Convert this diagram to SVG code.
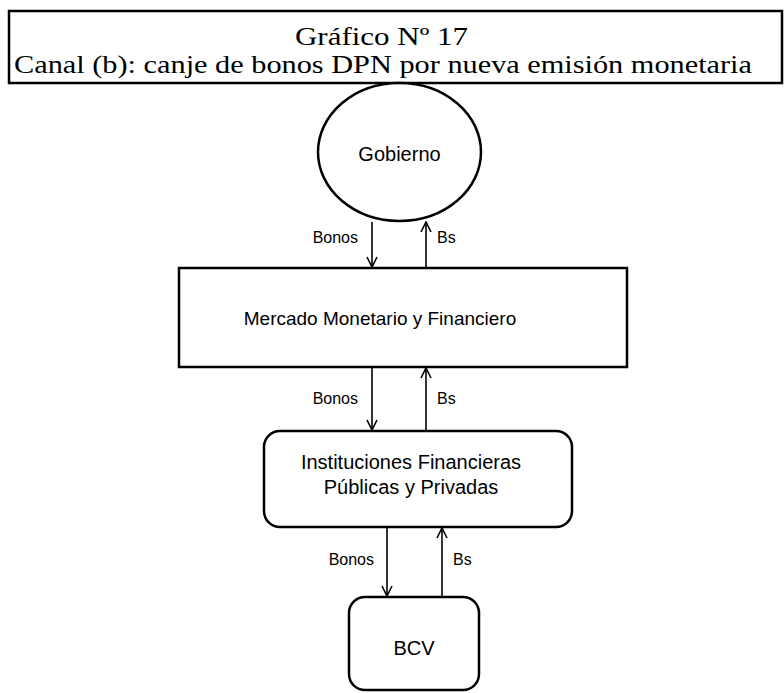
<svg xmlns="http://www.w3.org/2000/svg" width="784" height="693" viewBox="0 0 784 693">
<defs>
<style>
.box{fill:#fff;stroke:#000;stroke-width:2.5}
.con{stroke:#000;stroke-width:1.6;fill:none;marker-end:url(#ah)}
.t{font-family:"Liberation Sans",Arial,sans-serif;fill:#000}
.n{font-size:20px;text-anchor:middle}
.l{font-size:16px}
.s{font-family:"Liberation Serif","Times New Roman",serif;fill:#000}
</style>
<marker id="ah" viewBox="0 0 12 12" refX="11" refY="6" markerWidth="12" markerHeight="12" markerUnits="userSpaceOnUse" orient="auto">
<polyline points="1,1 11,6 1,11" fill="none" stroke="#000" stroke-width="1.6"/>
</marker>
</defs>
<g id="title">
<rect class="box" x="9" y="11" width="773" height="72"/>
<text class="s" x="295" y="45" font-size="25" textLength="173" lengthAdjust="spacingAndGlyphs">Gráfico Nº 17</text>
<text class="s" x="14" y="73" font-size="25" textLength="738" lengthAdjust="spacingAndGlyphs">Canal (b): canje de bonos DPN por nueva emisión monetaria</text>
</g>
<g id="gobierno">
<ellipse class="box" cx="399.5" cy="152" rx="81.5" ry="69"/>
<text class="t n" x="399.5" y="161">Gobierno</text>
</g>
<g id="mercado">
<rect class="box" x="179" y="268" width="448" height="99"/>
<text class="t n" x="380" y="325" font-size="19" style="font-size:19px">Mercado Monetario y Financiero</text>
</g>
<g id="instituciones">
<rect class="box" x="264" y="431" width="308" height="96" rx="16"/>
<text class="t n" x="411" y="469">Instituciones Financieras</text>
<text class="t n" x="411" y="494">Públicas y Privadas</text>
</g>
<g id="bcv">
<rect class="box" x="349" y="597" width="130" height="93" rx="16"/>
<text class="t n" x="414" y="655">BCV</text>
</g>
<g id="connectors">
<line class="con" x1="372" y1="222" x2="372" y2="267"/>
<line class="con" x1="426" y1="267" x2="426" y2="222"/>
<line class="con" x1="372" y1="368" x2="372" y2="430"/>
<line class="con" x1="426" y1="430" x2="426" y2="368"/>
<line class="con" x1="387" y1="528" x2="387" y2="596"/>
<line class="con" x1="442" y1="596" x2="442" y2="528"/>
<text class="t l" x="358" y="243" text-anchor="end">Bonos</text>
<text class="t l" x="437" y="243">Bs</text>
<text class="t l" x="358" y="404" text-anchor="end">Bonos</text>
<text class="t l" x="437" y="404">Bs</text>
<text class="t l" x="374" y="565" text-anchor="end">Bonos</text>
<text class="t l" x="453" y="565">Bs</text>
</g>
</svg>
